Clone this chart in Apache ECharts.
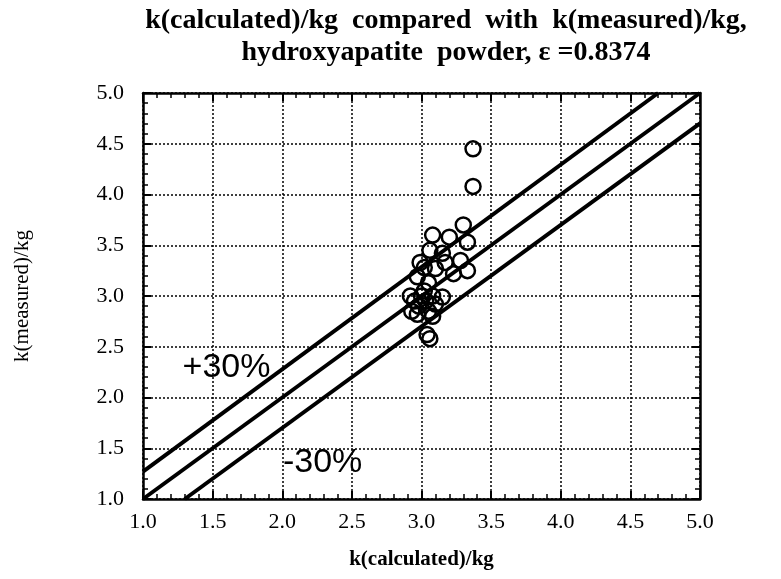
<!DOCTYPE html>
<html>
<head>
<meta charset="utf-8">
<script src="https://cdn.jsdelivr.net/npm/echarts@6/dist/echarts.min.js"></script>
<style>
  html, body { margin: 0; padding: 0; background: #fff; }
  #main { width: 781px; height: 579px; }
</style>
</head>
<body>
<div id="main"></div>
<script>
// k(calculated)/kg 与 k(measured)/kg 的散点
var kCalc = [3.37, 3.37, 3.30, 3.08, 3.20, 3.33, 3.06, 3.15, 3.28, 3.33, 3.23, 2.99, 2.97, 3.10, 3.17, 3.05,
    3.02, 2.92, 2.95, 2.93, 2.98, 3.00, 3.03, 3.05, 3.08, 3.10, 2.97, 3.02, 3.15, 3.04, 3.06, 3.08];
var kMeas = [4.45, 4.08, 3.70, 3.60, 3.58, 3.53, 3.45, 3.42, 3.35, 3.25, 3.22, 3.33, 3.19, 3.27, 3.33, 3.13,
    3.28, 3.00, 2.95, 2.85, 2.90, 3.00, 2.95, 2.85, 3.00, 2.92, 2.82, 3.05, 2.99, 2.62, 2.58, 2.80];

// 三条参考线的端点
var lineEqual = [[1.0, 1.0], [5.0, 5.0]];
var linePlus = [[1.0, 1.27], [4.7, 5.0]];
var lineMinus = [[1.3, 1.0], [5.0, 4.7]];

// 文字标注
var bandLabels = [{ text: '+30%', x: 1.6, y: 2.29 }, { text: '-30%', x: 2.29, y: 1.36 }];

var axisTicks = [1.0, 1.5, 2.0, 2.5, 3.0, 3.5, 4.0, 4.5, 5.0];

var myChart = echarts.init(document.getElementById('main'));

var serif = 'Liberation Serif';

function makeAxis(pos, withLabel, name) {
    var ax = {
        type: 'value',
        position: pos,
        min: axisTicks[0],
        max: axisTicks[axisTicks.length - 1],
        interval: 0.5,
        axisLine: { show: true, onZero: false, lineStyle: { color: '#000', width: 2.5 } },
        axisTick: { show: true, inside: true, length: 8, lineStyle: { color: '#000', width: 2 } },
        minorTick: { show: true, splitNumber: 5, length: 5, lineStyle: { color: '#000', width: 1.5 } },
        axisLabel: {
            show: withLabel,
            color: '#000',
            fontFamily: serif,
            fontSize: 22,
            margin: 12,
            formatter: function(v) { return v.toFixed(1); }
        },
        splitLine: {
            show: withLabel,
            lineStyle: { color: '#000', width: 1.5, type: [2, 2] }
        }
    };
    if (name) {
        ax.name = name;
        ax.nameLocation = 'middle';
        ax.nameTextStyle = { color: '#000', fontFamily: serif, fontSize: 21, fontWeight: 'bold' };
    }
    return ax;
}

var xMain = makeAxis('bottom', true, 'k(calculated)/kg');
xMain.nameGap = 50;
var yMain = makeAxis('left', true, 'k(measured)/kg');
yMain.nameGap = 110;
yMain.axisLabel.margin = 19;
yMain.nameTextStyle.fontWeight = 'normal';

var lineStyle = { color: '#000', width: 4 };

option = {
    animation: false,
    title: {
        text: 'k(calculated)/kg  compared  with  k(measured)/kg,\nhydroxyapatite  powder, \u03b5 =0.8374',
        left: 441,
        textAlign: 'center',
        top: 0,
        textStyle: {
            color: '#000',
            fontFamily: serif,
            fontWeight: 'bold',
            fontSize: 28,
            lineHeight: 32
        }
    },
    grid: { left: 143, right: 81, top: 93, bottom: 80 },
    xAxis: [xMain, makeAxis('top', false)],
    yAxis: [yMain, makeAxis('right', false)],
    series: [{
            type: 'line',
            data: lineEqual,
            symbol: 'none',
            lineStyle: lineStyle
        },
        {
            type: 'line',
            data: linePlus,
            symbol: 'none',
            lineStyle: lineStyle
        },
        {
            type: 'line',
            data: lineMinus,
            symbol: 'none',
            lineStyle: lineStyle
        },
        {
            type: 'scatter',
            symbol: 'circle',
            symbolSize: 15,
            itemStyle: { color: 'rgba(255,255,255,0)', borderColor: '#000', borderWidth: 2.5, opacity: 1 },
            data: kCalc.map(function(x, i) { return [x, kMeas[i]]; })
        },
        {
            type: 'scatter',
            symbolSize: 0,
            silent: true,
            itemStyle: { opacity: 1 },
            label: {
                show: true,
                position: 'inside',
                color: '#000',
                fontFamily: 'Liberation Sans',
                fontSize: 34,
                formatter: function(p) { return p.data.name; }
            },
            data: bandLabels.map(function(d) { return { name: d.text, value: [d.x, d.y] }; })
        }
    ]
};

myChart.setOption(option);
</script>
</body>
</html>
